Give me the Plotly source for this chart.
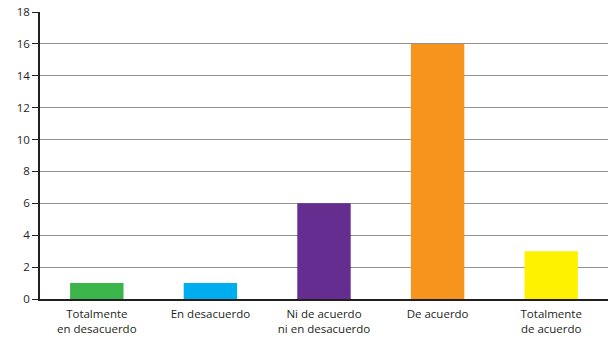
import plotly.graph_objects as go

categories = ["Totalmente<br>en desacuerdo", "En desacuerdo", "Ni de acuerdo<br>ni en desacuerdo", "De acuerdo", "Totalmente<br>de acuerdo"]
values = [1, 1, 6, 16, 3]
colors = ["#3BB44A", "#00AEEF", "#662D91", "#F7941D", "#FFF200"]
y_ticks = [0, 2, 4, 6, 8, 10, 12, 14, 16, 18]

fig = go.Figure(go.Bar(x=categories, y=values, marker=dict(color=colors, line=dict(width=0)), width=0.47))

fig.update_layout(
    width=608, height=339,
    margin=dict(l=40, r=0, t=12, b=40),
    paper_bgcolor="white", plot_bgcolor="white",
    font=dict(family="Open Sans, sans-serif", size=11, color="#231F20"),
    showlegend=False,
)
fig.update_yaxes(
    range=[0, 18], tickvals=y_ticks, showgrid=True, gridcolor="#939393", gridwidth=1,
    showline=True, linecolor="#231F20", linewidth=1.5, ticks="outside", ticklen=6,
    tickcolor="#231F20", zeroline=False, tickfont=dict(size=11.5),
)
fig.update_xaxes(
    showline=True, linecolor="#231F20", linewidth=1.5, ticks="", tickfont=dict(size=11.5),
    ticklabelstandoff=3,
)

fig.write_html("out.html")
